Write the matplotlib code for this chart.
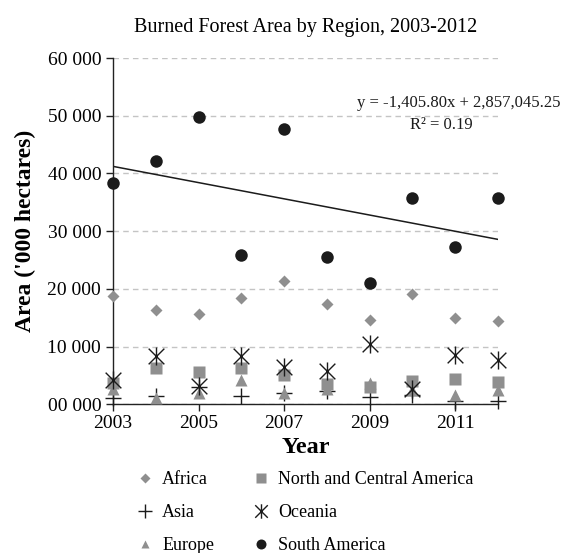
import numpy as np
import matplotlib
matplotlib.use("Agg")
import matplotlib.pyplot as plt
from matplotlib.path import Path
from matplotlib.ticker import FuncFormatter, MultipleLocator

plt.rcParams["font.family"] = ["Liberation Serif", "DejaVu Serif"]

# Burned area per region, thousand hectares
years = [2003, 2004, 2005, 2006, 2007, 2008, 2009, 2010, 2011, 2012]
africa = [18700, 16400, 15600, 18400, 21300, 17300, 14600, 19100, 15000, 14400]
asia = [1100, 1500, 3000, 1400, 1900, 2300, 1200, 1600, 600, 600]
europe = [2600, 1000, 1900, 4200, 2000, 2700, 3600, 2500, 1600, 2400]
north_central_america = [3600, 6300, 5600, 6200, 5000, 3500, 3000, 4000, 4300, 3900]
oceania = [4200, 8400, 3200, 8400, 6500, 5800, 10400, 2700, 8500, 7600]
south_america = [38300, 42100, 49800, 25800, 47700, 25600, 21000, 35800, 27300, 35800]
year_ticks = [2003, 2005, 2007, 2009, 2011]

# linear trend on South America (coefficients as printed on the chart)
trend_slope = -1405.80
trend_intercept = 2857045.25
trend_r2 = 0.19

GREY = "#8f8f8f"
DARK = "#1b1b1b"

# X with a vertical stroke through the middle
star_x = Path(
    [(-1, -1), (1, 1), (-1, 1), (1, -1), (0, -1.15), (0, 1.15)],
    [Path.MOVETO, Path.LINETO, Path.MOVETO, Path.LINETO, Path.MOVETO, Path.LINETO],
)

fig = plt.figure(figsize=(5.62, 5.53), dpi=100)
ax = fig.add_axes([0.201, 0.269, 0.685, 0.626])

series = [
    ("Africa", africa, dict(marker="D", color=GREY, ms=6.5, mec="none")),
    ("Asia", asia, dict(marker="+", color=DARK, ms=12, mew=1.0)),
    ("Europe", europe, dict(marker="^", color=GREY, ms=8, mec="none")),
    ("North and Central America", north_central_america,
     dict(marker="s", color=GREY, ms=8.5, mec="none")),
    ("Oceania", oceania, dict(marker=star_x, color=DARK, ms=13, mew=1.0, mfc="none")),
    ("South America", south_america, dict(marker="o", color=DARK, ms=9, mec="none")),
]

handles = []
for name, vals, style in series:
    (h,) = ax.plot(years, vals, linestyle="none", label=name, clip_on=False,
                   zorder=3, **style)
    handles.append(h)

xs = np.array([years[0], years[-1]], dtype=float)
ax.plot(xs, trend_slope * xs + trend_intercept, color=DARK, lw=1.1, zorder=2)

ax.set_xlim(2003, 2012)
ax.set_ylim(0, 60000)
ax.set_xticks(year_ticks)
ax.yaxis.set_major_locator(MultipleLocator(10000))
ax.yaxis.set_major_formatter(FuncFormatter(lambda v, p: f"{int(v // 1000):02d} 000"))

ax.grid(axis="y", color="#c4c4c4", linestyle=(0, (4, 3)), lw=1.0, zorder=0)
ax.set_axisbelow(True)
for side in ("top", "right"):
    ax.spines[side].set_visible(False)
for side in ("left", "bottom"):
    ax.spines[side].set_color("#222222")
    ax.spines[side].set_linewidth(1.0)

ax.tick_params(axis="both", labelsize=14, color="#222222", length=5, width=1.0)
ax.tick_params(axis="x", direction="out", pad=3)

ax.set_title("Burned Forest Area by Region, 2003-2012", fontsize=14.5, pad=19)
ax.set_xlabel("Year", fontsize=17.5, fontweight="bold", labelpad=3)
ax.set_ylabel("Area ('000 hectares)", fontsize=17, fontweight="bold", labelpad=8)

ax.text(0.899, 0.870, "y = -1,405.80x + 2,857,045.25", transform=ax.transAxes,
        ha="center", va="center", fontsize=12, color=DARK)
ax.text(0.852, 0.806, f"R² = {trend_r2:.2f}", transform=ax.transAxes,
        ha="center", va="center", fontsize=12, color=DARK)

fig.legend(handles=handles, loc="upper left", bbox_to_anchor=(0.213, 0.177),
           ncol=2, frameon=False, fontsize=13, handlelength=1.0,
           handletextpad=0.45, columnspacing=2.1, labelspacing=0.88,
           markerscale=0.8)

fig.savefig("out.png", dpi=100)
